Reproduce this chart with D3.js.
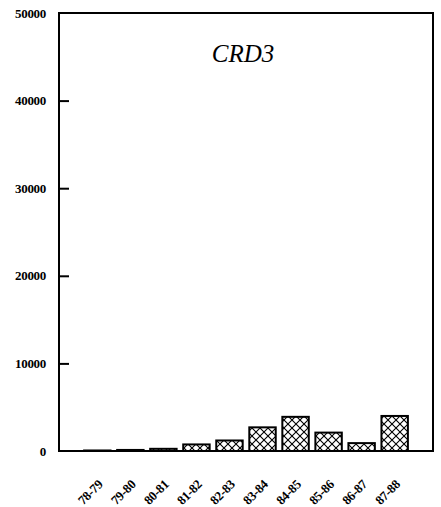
<!DOCTYPE html>
<html>
<head>
<meta charset="utf-8">
<script src="https://cdn.jsdelivr.net/npm/d3@7"></script>
<style>
  body { margin: 0; background: #fff; }
  svg { display: block; }
  .tick text { font-family: "Liberation Serif", serif; font-weight: bold; font-size: 13px; fill: #000; letter-spacing: -0.3px; }
</style>
</head>
<body>
<div id="chart"></div>
<script>
const years = ["78-79", "79-80", "80-81", "81-82", "82-83", "83-84", "84-85", "85-86", "86-87", "87-88"];
const values = [60, 120, 250, 750, 1200, 2700, 3900, 2100, 900, 4000];
const yTicks = [0, 10000, 20000, 30000, 40000, 50000];

const width = 441, height = 507;
const frame = { left: 59, right: 433, top: 13, bottom: 451 };

const svg = d3.select("#chart").append("svg")
    .attr("width", width)
    .attr("height", height);

// crosshatch fill
const pat = svg.append("defs").append("pattern")
    .attr("id", "hatch")
    .attr("patternUnits", "userSpaceOnUse")
    .attr("width", 8)
    .attr("height", 8);
pat.append("rect").attr("width", 8).attr("height", 8).attr("fill", "#fff");
pat.append("path")
    .attr("d", "M0,0L8,8M8,0L0,8")
    .attr("stroke", "#000")
    .attr("stroke-width", 1.1);

const x = d3.scaleBand()
    .domain(years)
    .range([77.5, 414.5])
    .padding(0.2);

const y = d3.scaleLinear()
    .domain([0, 50000])
    .range([frame.bottom, frame.top]);

// bars
svg.selectAll(".bar")
    .data(years)
    .enter().append("rect")
    .attr("class", "bar")
    .attr("x", d => x(d))
    .attr("width", x.bandwidth())
    .attr("y", (d, i) => y(values[i]))
    .attr("height", (d, i) => y(0) - y(values[i]))
    .attr("fill", "url(#hatch)")
    .attr("stroke", "#000")
    .attr("stroke-width", 2);

// y axis, ticks pointing inward
const yAxis = svg.append("g")
    .attr("transform", `translate(${frame.left},0)`)
    .call(d3.axisLeft(y).tickValues(yTicks).tickSize(0).tickPadding(13).tickFormat(d3.format("d")));
yAxis.select(".domain").remove();
yAxis.selectAll(".tick")
    .filter(d => d > 0 && d < 50000)
    .append("line")
    .attr("x2", 10)
    .attr("stroke", "#000")
    .attr("stroke-width", 2);

// x axis labels
const xAxis = svg.append("g")
    .attr("transform", `translate(0,${frame.bottom})`)
    .call(d3.axisBottom(x).tickSize(0).tickPadding(0));
xAxis.select(".domain").remove();
xAxis.selectAll(".tick text")
    .attr("text-anchor", "end")
    .attr("transform", "translate(3,31) rotate(-45)")
    .attr("dy", "0.35em");

// frame
svg.append("rect")
    .attr("x", frame.left)
    .attr("y", frame.top)
    .attr("width", frame.right - frame.left)
    .attr("height", frame.bottom - frame.top)
    .attr("fill", "none")
    .attr("stroke", "#000")
    .attr("stroke-width", 2);

svg.append("text")
    .attr("x", 243)
    .attr("y", 62)
    .attr("text-anchor", "middle")
    .attr("font-family", "Liberation Serif, serif")
    .attr("font-style", "italic")
    .attr("font-size", 25)
    .text("CRD3");
</script>
</body>
</html>
